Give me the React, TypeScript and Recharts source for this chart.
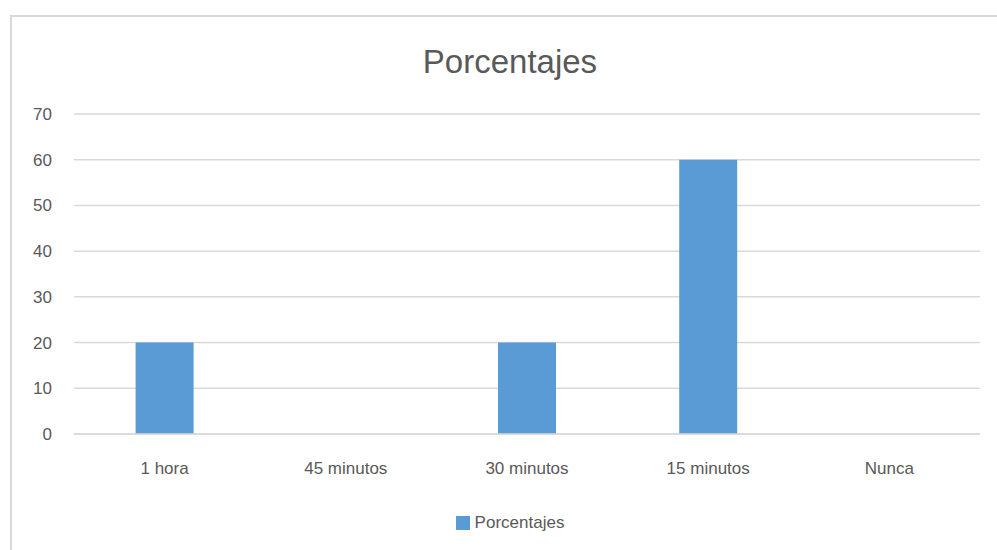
import { BarChart, Bar, XAxis, YAxis, CartesianGrid, Legend } from 'recharts'

const categories = ['1 hora', '45 minutos', '30 minutos', '15 minutos', 'Nunca']
const values = [20, 0, 20, 60, 0]
const yTicks = [0, 10, 20, 30, 40, 50, 60, 70]

const data = categories.map((name, i) => ({ name, Porcentajes: values[i] }))

const FONT = '"Liberation Sans", Arial, sans-serif'
const TEXT = '#595959'
const GRID = '#d9d9d9'
const BAR = '#5B9BD5'

function LegendContent() {
  return (
    <div style={{ display: 'flex', justifyContent: 'center', alignItems: 'center', fontFamily: FONT, fontSize: 17, color: TEXT }}>
      <span style={{ display: 'inline-block', width: 14, height: 14, background: BAR, marginRight: 5 }} />
      <span>Porcentajes</span>
    </div>
  )
}

export default function App() {
  return (
    <div style={{ position: 'fixed', left: 0, top: 0, width: 997, height: 550, background: '#fff', overflow: 'hidden' }}>
      {/* chart frame, cut off at the right and bottom */}
      <div style={{ position: 'absolute', left: 10, top: 15, width: 1000, height: 600, border: `2px solid ${GRID}`, boxSizing: 'border-box' }} />
      <div style={{ position: 'absolute', left: 0, top: 43, width: 1020, textAlign: 'center', fontFamily: FONT, fontSize: 33, color: TEXT }}>
        Porcentajes
      </div>
      <div style={{ position: 'absolute', left: 0, top: 0 }}>
        <BarChart width={997} height={550} data={data} margin={{ top: 114, right: 17, bottom: 66, left: 34 }} barCategoryGap="34%">
          <CartesianGrid vertical={false} stroke={GRID} strokeWidth={1.5} />
          <XAxis
            dataKey="name"
            axisLine={{ stroke: GRID, strokeWidth: 1.5 }}
            tickLine={false}
            tickSize={0}
            tickMargin={28}
            tick={{ fontSize: 17, fill: TEXT, fontFamily: FONT }}
          />
          <YAxis
            width={40}
            domain={[0, 70]}
            ticks={yTicks}
            axisLine={false}
            tickLine={false}
            tickSize={0}
            tickMargin={22}
            tick={{ fontSize: 17, fill: TEXT, fontFamily: FONT }}
          />
          <Legend content={<LegendContent />} wrapperStyle={{ top: 513, left: 0, width: 1020 }} />
          <Bar dataKey="Porcentajes" fill={BAR} isAnimationActive={false} />
        </BarChart>
      </div>
    </div>
  )
}
